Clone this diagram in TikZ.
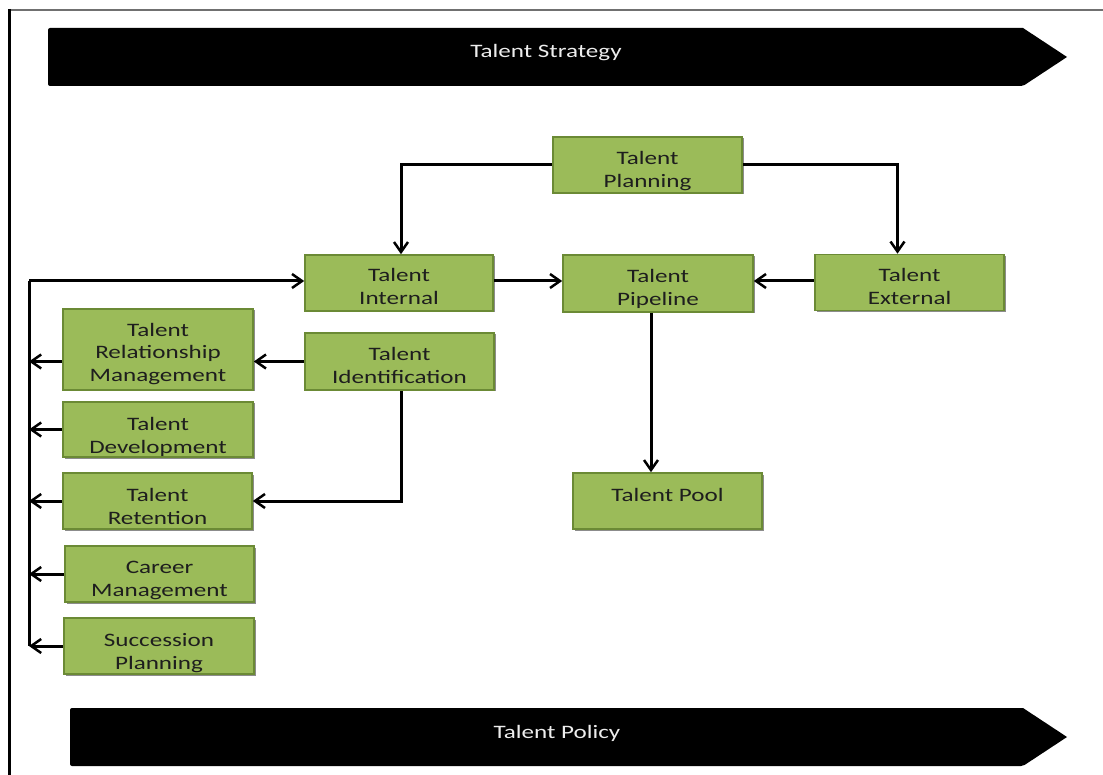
\documentclass[tikz,border=0pt]{standalone}
\usepackage{fontspec}
\newfontfamily\boxfont[FakeStretch=1.32]{Carlito}
\usetikzlibrary{arrows.meta,shadows}
\definecolor{boxgreen}{HTML}{9BBB59}
\definecolor{boxedge}{HTML}{6B8A35}
\definecolor{boxtext}{HTML}{1E1E1E}
\definecolor{framegray}{HTML}{707070}
\tikzset{
  tbox/.style={draw=boxedge, line width=1.6pt, fill=boxgreen, text=boxtext,
    inner sep=0pt, align=center, minimum width=189pt, minimum height=56pt,
    text height=44pt, text depth=0pt,
    font=\boxfont\fontsize{19}{23}\selectfont,
    drop shadow={shadow xshift=1.5pt, shadow yshift=-1.5pt, opacity=0.45, fill=black}},
  conn/.style={line width=3pt, black, line join=miter},
  arr/.style={conn, -{Straight Barb[length=10pt,width=14pt,line width=2.5pt]}},
  bannertext/.style={text=white!93!black, inner sep=0pt, font=\boxfont\fontsize{19}{23}\selectfont}
}
\begin{document}
\begin{tikzpicture}[x=1pt,y=-1pt]
\useasboundingbox (0,0) rectangle (1103,775);
% frame
\draw[framegray, line width=2pt] (9,10) -- (1103,10);
\draw[black, line width=3pt] (9,9) -- (9,775);
% banners
\fill[black, rounded corners=2pt] (1023,28) -- (48,28) -- (48,86) -- (1023,86) [sharp corners] -- (1067,57) -- cycle;
\node[bannertext] (strategy) at (546,53) {Talent Strategy};
\fill[black, rounded corners=2pt] (1023,708) -- (70,708) -- (70,766) -- (1023,766) [sharp corners] -- (1067,737) -- cycle;
\node[bannertext] (policy) at (557,733) {Talent Policy};
% boxes
\node[tbox, text height=46pt] (plan) at (647.5,165) {Talent\\Planning};
\node[tbox, minimum width=188pt] (int) at (399,283) {Talent\\Internal};
\node[tbox, minimum width=190pt, minimum height=57pt] (pipe) at (658,283.5) {Talent\\Pipeline};
\node[tbox] (ext) at (909.5,282.5) {Talent\\External};
\node[tbox, minimum height=57pt] (ident) at (399.5,361.5) {Talent\\Identification};
\node[tbox, minimum width=190pt, minimum height=81pt, text height=65pt] (rm) at (158,349.5) {Talent\\Relationship\\Management};
\node[tbox, minimum width=190pt, minimum height=55pt, text height=47pt] (dev) at (158,429.5) {Talent\\Development};
\node[tbox, text height=46pt] (ret) at (157.5,501) {Talent\\Retention};
\node[tbox] (car) at (159.5,574) {Career\\Management};
\node[tbox, minimum width=190pt, text height=46pt] (suc) at (159,646) {Succession\\Planning};
\node[tbox, text height=1pt] (pool) at (667.5,501) {Talent Pool};
% connectors
\coordinate (spinetop) at (29,281);
\draw[conn] (spinetop) -- (spinetop |- suc.west);
\draw[arr] (spinetop) -- (spinetop -| int.west);
\draw[arr] (rm.west |- ident.west) -- (spinetop |- ident.west);
\draw[arr] (dev.west) -- (dev.west -| spinetop);
\draw[arr] (ret.west) -- (ret.west -| spinetop);
\draw[arr] (car.west) -- (car.west -| spinetop);
\draw[arr] (suc.west) -- (suc.west -| spinetop);
\draw[arr] (plan.west) -| ([xshift=2pt]int.north);
\draw[arr] (plan.east) -| ([xshift=-12pt]ext.north);
\draw[arr] (int.east |- spinetop) -- (pipe.west |- spinetop);
\draw[arr] (ext.west |- spinetop) -- (pipe.east |- spinetop);
\draw[arr] (ident.west) -- (ident.west -| rm.east);
\draw[arr] ([xshift=1.5pt]ident.south) |- (ret.east);
\draw[arr] ([xshift=-7pt]pipe.south) -- ([xshift=-7pt]pipe.south |- pool.north);
\end{tikzpicture}
\end{document}
